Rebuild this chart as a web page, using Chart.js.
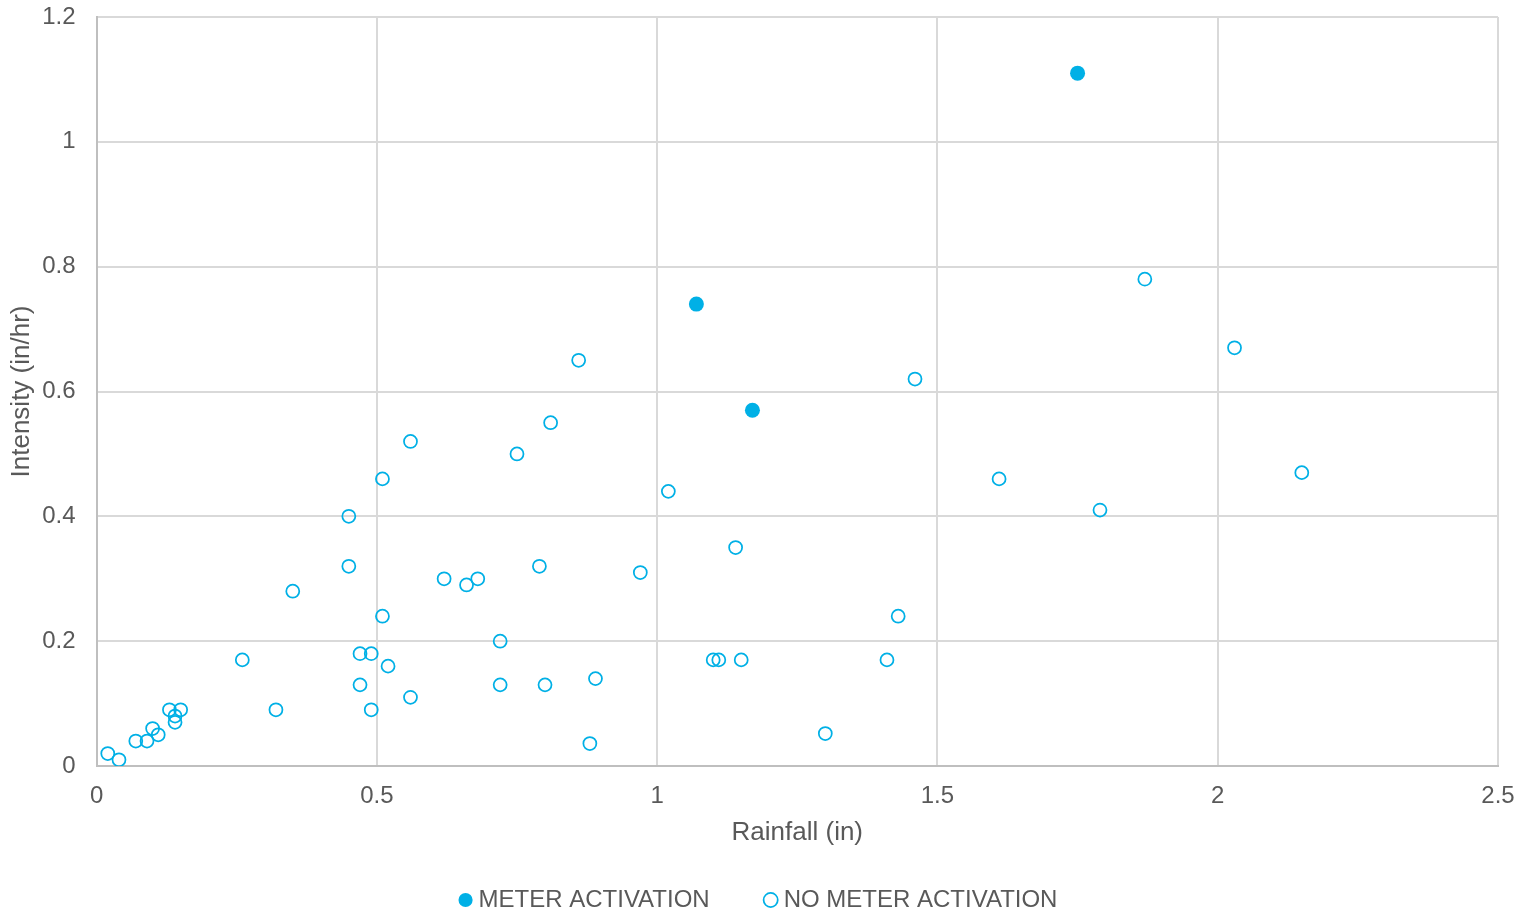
<!DOCTYPE html>
<html>
<head>
<meta charset="utf-8">
<script src="https://cdn.jsdelivr.net/npm/chart.js@4"></script>
<style>
  html, body { margin: 0; padding: 0; background: #fff; }
  #wrap { width: 1536px; height: 917px; }
</style>
</head>
<body>
<div id="wrap"><canvas id="chart" width="1536" height="917"></canvas></div>
<script>
// Rainfall (in) vs intensity (in/hr)
const meterX = [1.07, 1.17, 1.75];
const meterY = [0.74, 0.57, 1.11];

const noMeterX = [0.02, 0.04, 0.07, 0.09, 0.10, 0.11, 0.13, 0.15, 0.14, 0.14,
  0.26, 0.32, 0.35, 0.45, 0.45, 0.47, 0.49, 0.47, 0.49, 0.51,
  0.51, 0.52, 0.56, 0.56, 0.62, 0.66, 0.68, 0.72, 0.72, 0.75,
  0.79, 0.80, 0.81, 0.86, 0.88, 0.89, 0.97, 1.02, 1.10, 1.11,
  1.14, 1.15, 1.30, 1.41, 1.43, 1.46, 1.61, 1.79, 1.87, 2.03, 2.15];
const noMeterY = [0.02, 0.01, 0.04, 0.04, 0.06, 0.05, 0.09, 0.09, 0.08, 0.07,
  0.17, 0.09, 0.28, 0.32, 0.40, 0.18, 0.18, 0.13, 0.09, 0.24,
  0.46, 0.16, 0.11, 0.52, 0.30, 0.29, 0.30, 0.20, 0.13, 0.50,
  0.32, 0.13, 0.55, 0.65, 0.036, 0.14, 0.31, 0.44, 0.17, 0.17,
  0.35, 0.17, 0.052, 0.17, 0.24, 0.62, 0.46, 0.41, 0.78, 0.67, 0.47];

const seriesNames = ["METER ACTIVATION", "NO METER ACTIVATION"];
const xTitle = "Rainfall (in)";
const yTitle = "Intensity (in/hr)";

const blue = "#00B0E6";
const textGray = "#595959";
const fontFamily = "'Liberation Sans', Arial, sans-serif";

function toPoints(xs, ys) {
  return xs.map((x, i) => ({ x: x, y: ys[i] }));
}

function tickText(v) {
  return String(Math.round(v * 10) / 10);
}

// nudge the legend right so it sits where the original one did
const legendShift = {
  id: "legendShift",
  afterLayout(chart) {
    chart.legend.left += 12;
    chart.legend.right += 12;
  }
};

const ctx = document.getElementById("chart").getContext("2d");

new Chart(ctx, {
  type: "scatter",
  data: {
    datasets: [
      {
        label: seriesNames[0],
        data: toPoints(meterX, meterY),
        pointRadius: 7.5,
        pointHoverRadius: 7.5,
        backgroundColor: blue,
        borderColor: blue,
        borderWidth: 0
      },
      {
        label: seriesNames[1],
        data: toPoints(noMeterX, noMeterY),
        pointRadius: 6.5,
        pointHoverRadius: 6.5,
        backgroundColor: "rgba(0,0,0,0)",
        borderColor: blue,
        borderWidth: 1.75
      }
    ]
  },
  plugins: [legendShift],
  options: {
    responsive: false,
    devicePixelRatio: 1,
    animation: false,
    layout: { padding: { left: 0, right: 38, top: 17, bottom: -5 } },
    plugins: {
      tooltip: { enabled: false },
      legend: {
        position: "bottom",
        labels: {
          usePointStyle: true,
          pointStyle: "circle",
          boxWidth: 2,
          boxHeight: 10,
          padding: 40,
          color: textGray,
          font: { family: fontFamily, size: 24 },
          generateLabels: function (chart) {
            const items = Chart.defaults.plugins.legend.labels.generateLabels(chart);
            // a little extra room after the first entry
            if (items.length) items[0].text = items[0].text + "\u00a0\u00a0\u00a0";
            return items;
          }
        }
      }
    },
    scales: {
      x: {
        type: "linear",
        min: 0,
        max: 2.5,
        afterFit: function (scale) {
          scale.height -= 18;
          scale.paddingLeft = 0;
          scale.paddingRight = 0;
        },
        ticks: {
          stepSize: 0.5,
          color: textGray,
          padding: 16,
          font: { family: fontFamily, size: 24 },
          callback: tickText
        },
        grid: { color: "#d9d9d9", lineWidth: 2, drawTicks: false },
        border: { color: "#bfbfbf", width: 2 },
        title: {
          display: true,
          text: xTitle,
          color: textGray,
          font: { family: fontFamily, size: 26 },
          padding: { top: 8, bottom: 0 }
        }
      },
      y: {
        type: "linear",
        min: 0,
        max: 1.2,
        afterFit: function (scale) {
          scale.width -= 21;
          scale.paddingTop = 0;
          scale.paddingBottom = 0;
        },
        ticks: {
          stepSize: 0.2,
          color: textGray,
          padding: 21,
          font: { family: fontFamily, size: 24 },
          callback: tickText
        },
        grid: { color: "#d9d9d9", lineWidth: 2, drawTicks: false },
        border: { color: "#bfbfbf", width: 2 },
        title: {
          display: true,
          text: yTitle,
          color: textGray,
          font: { family: fontFamily, size: 26 },
          padding: { top: 6, bottom: 5 }
        }
      }
    }
  }
});
</script>
</body>
</html>
